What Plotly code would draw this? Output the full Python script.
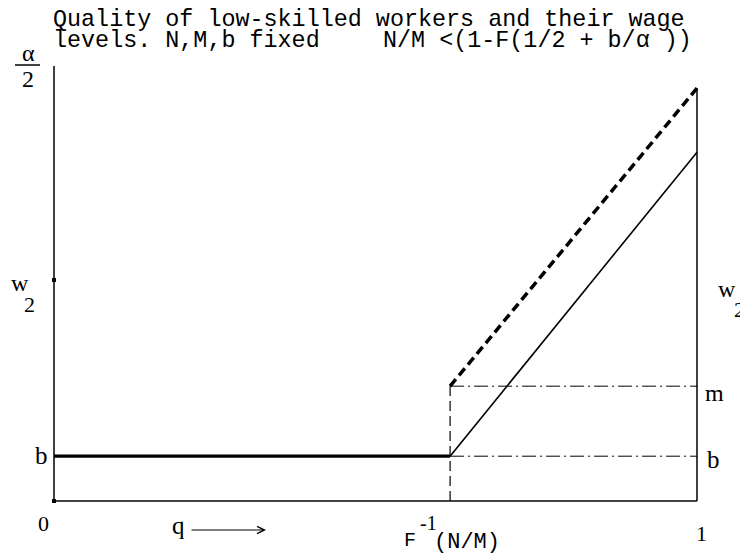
import plotly.graph_objects as go

# ---- data (wage axis in units of alpha/2, quality q in [0, 1]) ----
q_min, q_max = 0.0, 1.0
q_star = 0.616            # F^-1(N/M)
b = 0.103                 # wage level b
m = 0.264                 # wage level m
alpha_half = 1.0          # alpha/2
w2_tick = 0.508           # tick on the left axis next to the w2 label
w_solid_end = 0.802       # wage at q = 1 (solid line)
w_dashed_end = 0.949      # upper bound at q = 1 (dashed line)

low_q = [q_min, q_star]
low_w = [b, b]
solid_q = [q_star, q_max]
solid_w = [b, w_solid_end]
dashed_q = [q_star, q_max]
dashed_w = [m, w_dashed_end]

# page has an 8px body margin: figure is drawn offset by OFF pixels
OFF = 8
W, H = 748 - OFF, 556 - OFF
PX0, PXW = 54, 643        # reference pixel of q=0 and width of q in [0,1]
PY0, PYH = 501, 435       # reference pixel of w=0 and height of w in [0,1]

fig = go.Figure()

def line(x, y, width=1.5, color="black", dash=None):
    fig.add_trace(go.Scatter(x=x, y=y, mode="lines", hoverinfo="skip",
                             line=dict(color=color, width=width, dash=dash),
                             showlegend=False))

# axes frame
line([q_min, q_min], [0, alpha_half], 1.5)
line([q_min, q_max], [0, 0], 2, "#444444")
line([q_max, q_max], [0, w_dashed_end], 1.5)

# guide lines
line([q_star, q_star], [0, m], 1.2, dash="10px,5px")
line([q_star, q_max], [m, m], 1.0, dash="14px,4px,2px,4px")
line([q_star, q_max], [b, b], 1.0, dash="14px,4px,2px,4px")

# wage schedules
line(low_q, low_w, 3.2)
line(solid_q, solid_w, 1.6)
line(dashed_q, dashed_w, 3.5, dash="9px,5px")

# tick dots
fig.add_trace(go.Scatter(x=[q_min, q_min], y=[0, w2_tick], mode="markers",
                         marker=dict(color="black", size=4, symbol="square"),
                         hoverinfo="skip", showlegend=False))

def px(xp):
    return (xp - OFF) / W

def py(yp):
    return 1 - (yp - OFF) / H

annots = []

def txt(t, x, y, size=23, family="Liberation Serif", xanchor="center"):
    annots.append(dict(text=t, x=px(x), y=py(y), xref="paper", yref="paper",
                       showarrow=False, xanchor=xanchor, yanchor="middle",
                       font=dict(family=family, size=size, color="black")))

mono = "Liberation Mono"
txt("Quality of low-skilled workers and their wage", 51, 19.5, 23.4, mono, "left")
txt("levels. N,M,b fixed", 51, 41, 23.4, mono, "left")
txt("N/M &lt;(1-F(1/2 + b/α ))", 381, 41, 23.4, mono, "left")

# alpha / 2
txt("α", 28, 53, 24)
txt("2", 28, 79, 24)

# left labels
txt("w", 20, 283, 24)
txt("2", 29, 304, 22)
txt("b", 41, 455, 25)
txt("0", 43, 523, 22)

# right labels
txt("w", 727, 289, 24)
txt("2", 739, 309, 22)
txt("m", 714, 393, 24)
txt("b", 713, 459, 25)

# bottom labels
txt("q", 178, 525, 25)
txt("1", 701, 533, 22)
txt("F", 410, 540, 20, mono)
txt("-1", 428, 523, 20)
txt("(N/M)", 467, 542, 22, mono)

# arrow after q
annots.append(dict(x=px(266), y=py(530), ax=-76, ay=0,
                   xref="paper", yref="paper",
                   text="", showarrow=True, arrowhead=5, arrowsize=1.2,
                   arrowwidth=1.2, arrowcolor="black"))

fig.update_layout(
    width=W, height=H,
    margin=dict(l=0, r=0, t=0, b=0),
    paper_bgcolor="white", plot_bgcolor="white",
    xaxis=dict(range=[(OFF - PX0) / PXW, (748 - PX0) / PXW],
               visible=False, fixedrange=True),
    yaxis=dict(range=[(PY0 - 556) / PYH, (PY0 - OFF) / PYH],
               visible=False, fixedrange=True),
    shapes=[dict(type="line", xref="paper", yref="paper",
                 x0=px(15), x1=px(40), y0=py(65), y1=py(65),
                 line=dict(color="black", width=1.5))],
    annotations=annots,
)

fig.write_html("out.html")
